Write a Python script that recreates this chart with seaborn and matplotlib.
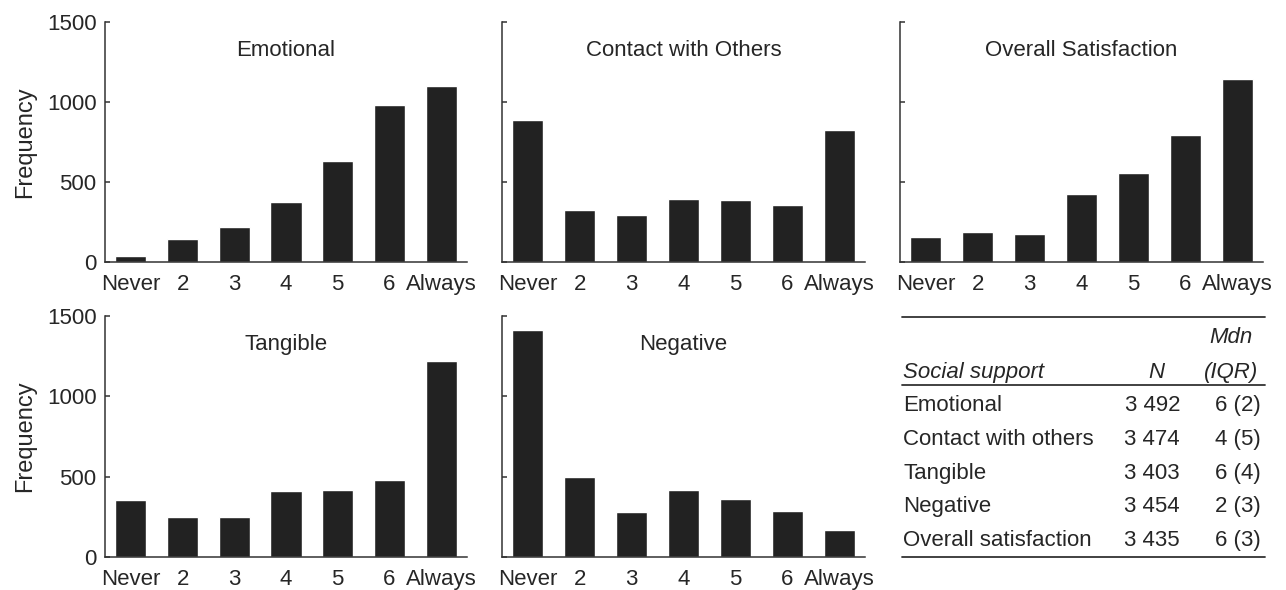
import matplotlib.pyplot as plt
import seaborn as sns

plt.switch_backend('Agg')

# Response categories and frequencies
categories = ['Never', '2', '3', '4', '5', '6', 'Always']
emotional = [35, 146, 221, 377, 633, 983, 1098]
contact = [885, 327, 291, 396, 390, 356, 825]
overall = [156, 185, 175, 427, 556, 794, 1144]
tangible = [355, 247, 251, 409, 415, 477, 1220]
negative = [1413, 498, 282, 415, 359, 288, 168]

panel_titles = ['Emotional', 'Contact with Others', 'Overall Satisfaction',
                'Tangible', 'Negative']

# Summary table
table_header = ['Social support', 'N', 'Mdn', '(IQR)']
support_names = ['Emotional', 'Contact with others', 'Tangible', 'Negative',
                 'Overall satisfaction']
support_n = ['3 492', '3 474', '3 403', '3 454', '3 435']
support_mdn = ['6 (2)', '4 (5)', '6 (4)', '2 (3)', '6 (3)']

sns.set_style('white')
plt.rcParams['font.family'] = ['Liberation Sans', 'DejaVu Sans']
plt.rcParams['axes.edgecolor'] = '#333333'
plt.rcParams['axes.linewidth'] = 1.1

bar_color = '#222222'
W, H = 1286, 590
fig = plt.figure(figsize=(W / 100, H / 100), dpi=100)

# pixel boxes (left, top, right, bottom) for each panel
boxes = [(105, 22, 467, 262), (502, 22, 865, 262), (900, 22, 1263, 262),
         (105, 316, 467, 557), (502, 316, 865, 557)]
series = [emotional, contact, overall, tangible, negative]

for i, (box, vals, title) in enumerate(zip(boxes, series, panel_titles)):
    l, t, r, b = box
    ax = fig.add_axes([l / W, 1 - b / H, (r - l) / W, (b - t) / H])
    sns.barplot(x=categories, y=vals, order=categories, color=bar_color,
                saturation=1, width=0.6, ax=ax)
    ax.set_xlim(-0.5, 6.5)
    ax.set_ylim(0, 1500)
    ax.set_yticks([0, 500, 1000, 1500])
    sns.despine(ax=ax)
    ax.tick_params(axis='x', length=0, pad=8.5, labelsize=16)
    ax.tick_params(axis='y', direction='in', length=3.5, width=1.1,
                   color='#333333', pad=6, labelsize=16, left=True)
    ax.text(0.5, 0.88, title, transform=ax.transAxes, ha='center',
            va='center', fontsize=16)
    if i in (0, 3):
        ax.set_ylabel('Frequency', fontsize=17)
        ax.yaxis.set_label_coords(-0.19, 0.5)
    else:
        ax.set_yticklabels([])
        ax.set_ylabel('')

# Table panel
tl, tt, tr, tb = 902, 317, 1265, 557
tax = fig.add_axes([tl / W, 1 - tb / H, (tr - tl) / W, (tb - tt) / H])
tax.set_xlim(0, 1)
tax.set_ylim(4.5, -2.65)
tax.axis('off')
for yy in (-2.65, -0.63, 4.5):
    tax.axhline(yy, color='#333333', lw=1.3, clip_on=False)

tax.text(0.003, -1.0, table_header[0], style='italic', fontsize=16,
         ha='left', va='center')
tax.text(0.70, -1.0, table_header[1], style='italic', fontsize=16,
         ha='center', va='center')
tax.text(0.907, -2.05, table_header[2], style='italic', fontsize=16,
         ha='center', va='center')
tax.text(0.907, -1.0, table_header[3], style='italic', fontsize=16,
         ha='center', va='center')

for row, (name, n, mdn) in enumerate(zip(support_names, support_n, support_mdn)):
    tax.text(0.003, row, name, fontsize=16, ha='left', va='center')
    tax.text(0.766, row, n, fontsize=16, ha='right', va='center')
    tax.text(0.989, row, mdn, fontsize=16, ha='right', va='center')

plt.savefig('out.png', dpi=100)
plt.close()
